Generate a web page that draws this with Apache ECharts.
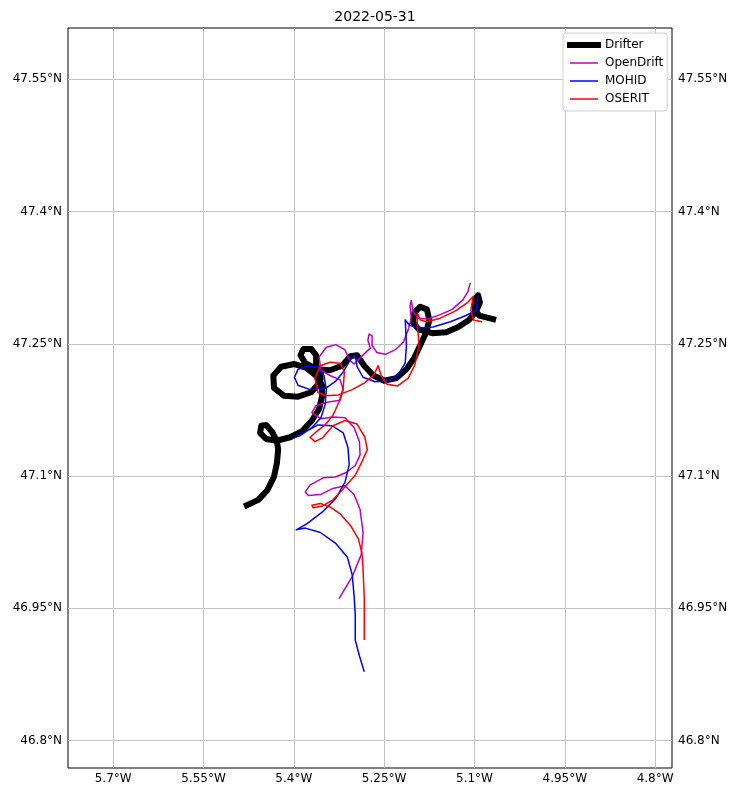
<!DOCTYPE html>
<html>
<head>
<meta charset="utf-8">
<script src="https://cdn.jsdelivr.net/npm/echarts@6/dist/echarts.min.js"></script>
<style>html,body{margin:0;padding:0;background:#fff}#c{width:732px;height:790px}</style>
</head>
<body>
<div id="c"></div>
<script>
const title = '2022-05-31';
const lonTicks = [-5.7, -5.55, -5.4, -5.25, -5.1, -4.95, -4.8];
const latTicks = [46.8, 46.95, 47.1, 47.25, 47.4, 47.55];
const seriesNames = ['Drifter', 'OpenDrift', 'MOHID', 'OSERIT'];

const drifter = [
[-5.478,47.067],[-5.459,47.073],[-5.444,47.084],[-5.433,47.099],[-5.428,47.115],[-5.426,47.130],
[-5.428,47.139],[-5.436,47.150],[-5.446,47.158],[-5.454,47.157],[-5.456,47.149],[-5.446,47.142],
[-5.429,47.140],[-5.406,47.144],[-5.386,47.151],[-5.370,47.163],[-5.358,47.176],[-5.353,47.191],
[-5.353,47.203],[-5.363,47.214],[-5.380,47.223],[-5.399,47.227],[-5.421,47.224],[-5.434,47.214],
[-5.433,47.200],[-5.416,47.191],[-5.393,47.190],[-5.371,47.195],[-5.356,47.207],[-5.355,47.218],
[-5.363,47.225],[-5.363,47.237],[-5.371,47.244],[-5.384,47.244],[-5.389,47.237],[-5.381,47.228],
[-5.361,47.221],[-5.340,47.220],[-5.320,47.225],[-5.306,47.236],[-5.295,47.237],[-5.283,47.225],
[-5.268,47.214],[-5.250,47.208],[-5.230,47.211],[-5.213,47.221],[-5.200,47.234],[-5.189,47.250],
[-5.180,47.263],[-5.175,47.277],[-5.179,47.289],[-5.190,47.292],[-5.200,47.285],[-5.202,47.274],
[-5.192,47.266],[-5.170,47.262],[-5.147,47.263],[-5.127,47.269],[-5.109,47.277],[-5.097,47.287],
[-5.091,47.297],[-5.094,47.305],[-5.099,47.300],[-5.099,47.288],[-5.092,47.282],[-5.069,47.278]
];

const openDrift = [
[-5.107,47.319],[-5.111,47.309],[-5.119,47.300],[-5.137,47.289],[-5.157,47.283],[-5.177,47.278],
[-5.194,47.279],[-5.202,47.287],[-5.205,47.299],[-5.207,47.293],[-5.205,47.279],[-5.210,47.266],
[-5.218,47.252],[-5.232,47.243],[-5.248,47.238],[-5.262,47.240],[-5.270,47.248],[-5.270,47.259],
[-5.275,47.261],[-5.277,47.254],[-5.273,47.245],[-5.287,47.236],[-5.300,47.227],[-5.308,47.232],
[-5.315,47.243],[-5.330,47.249],[-5.346,47.246],[-5.358,47.235],[-5.355,47.220],[-5.340,47.214],
[-5.323,47.209],[-5.318,47.198],[-5.323,47.186],[-5.343,47.184],[-5.363,47.180],[-5.370,47.172],
[-5.356,47.165],[-5.335,47.167],[-5.315,47.166],[-5.300,47.155],[-5.291,47.139],[-5.290,47.124],
[-5.298,47.112],[-5.313,47.104],[-5.331,47.099],[-5.351,47.098],[-5.373,47.090],[-5.381,47.082],
[-5.376,47.078],[-5.356,47.079],[-5.335,47.086],[-5.315,47.089],[-5.300,47.079],[-5.290,47.062],
[-5.285,47.036],[-5.288,47.011],[-5.303,46.986],[-5.325,46.961]
];

const mohid = [
[-5.094,47.305],[-5.097,47.288],[-5.114,47.282],[-5.140,47.275],[-5.169,47.269],[-5.194,47.268],
[-5.208,47.271],[-5.215,47.277],[-5.213,47.249],[-5.215,47.228],[-5.227,47.215],[-5.243,47.208],
[-5.265,47.207],[-5.285,47.212],[-5.295,47.224],[-5.298,47.237],[-5.306,47.232],[-5.318,47.218],
[-5.330,47.208],[-5.346,47.200],[-5.373,47.198],[-5.393,47.203],[-5.399,47.212],[-5.393,47.221],
[-5.376,47.225],[-5.360,47.223],[-5.350,47.214],[-5.346,47.198],[-5.348,47.181],[-5.355,47.166],
[-5.370,47.155],[-5.389,47.146],[-5.398,47.144],[-5.381,47.150],[-5.360,47.158],[-5.336,47.157],
[-5.318,47.149],[-5.310,47.132],[-5.308,47.113],[-5.315,47.093],[-5.330,47.075],[-5.353,47.059],
[-5.378,47.046],[-5.396,47.039],[-5.381,47.041],[-5.356,47.036],[-5.331,47.024],[-5.311,47.008],
[-5.303,46.988],[-5.300,46.965],[-5.298,46.943],[-5.298,46.914],[-5.291,46.896],[-5.283,46.878]
];

const oserit = [
[-5.087,47.275],[-5.102,47.277],[-5.106,47.288],[-5.102,47.304],[-5.111,47.297],[-5.132,47.287],
[-5.157,47.279],[-5.179,47.275],[-5.190,47.277],[-5.195,47.285],[-5.195,47.271],[-5.192,47.249],
[-5.199,47.226],[-5.210,47.211],[-5.228,47.202],[-5.245,47.204],[-5.255,47.214],[-5.260,47.225],
[-5.263,47.225],[-5.267,47.215],[-5.282,47.206],[-5.303,47.198],[-5.326,47.192],[-5.348,47.191],
[-5.360,47.195],[-5.365,47.211],[-5.356,47.225],[-5.340,47.229],[-5.323,47.228],[-5.316,47.218],
[-5.318,47.200],[-5.325,47.184],[-5.335,47.169],[-5.348,47.158],[-5.363,47.150],[-5.373,47.144],
[-5.365,47.139],[-5.353,47.143],[-5.335,47.157],[-5.315,47.163],[-5.295,47.159],[-5.282,47.144],
[-5.278,47.130],[-5.287,47.116],[-5.298,47.101],[-5.315,47.088],[-5.335,47.073],[-5.353,47.066],
[-5.368,47.064],[-5.370,47.067],[-5.356,47.069],[-5.340,47.065],[-5.323,47.057],[-5.306,47.044],
[-5.293,47.029],[-5.287,47.013],[-5.285,46.994],[-5.283,46.960],[-5.283,46.914]
];

const colors = ['#000000', '#bf00bf', '#0000ff', '#ff0000'];
const widths = [6, 1.5, 1.5, 1.5];
const tracks = [drifter, openDrift, mohid, oserit];

const font = 'DejaVu Sans';
const lonFmt = v => Math.abs(v) + '°W';
const latFmt = v => v + '°N';

const chart = echarts.init(document.getElementById('c'), null, {renderer: 'canvas'});
const yAxisBase = (pos) => ({
  type: 'value', position: pos, min: 46.769, max: 47.608,
  axisLine: {show: false}, axisTick: {show: false, customValues: latTicks},
  splitLine: {show: pos === 'left', lineStyle: {color: '#c4c4c4', width: 1}},
  axisLabel: {customValues: latTicks, formatter: latFmt, color: '#000', fontFamily: font, fontSize: 12, margin: 6}
});
chart.setOption({
  animation: false,
  backgroundColor: '#fff',
  title: {text: title, left: 370, top: 5, textAlign: 'center',
    textStyle: {fontFamily: font, fontSize: 14, fontWeight: 'normal', color: '#000'}},
  grid: {left: 68, right: 60, top: 28, bottom: 22, show: true, borderColor: '#000', borderWidth: 1, backgroundColor: 'transparent'},
  xAxis: {
    type: 'value', min: -5.775, max: -4.772,
    axisLine: {show: false}, axisTick: {show: false, customValues: lonTicks},
    splitLine: {show: true, lineStyle: {color: '#c4c4c4', width: 1}},
    axisLabel: {customValues: lonTicks, formatter: lonFmt, color: '#000', fontFamily: font, fontSize: 12, margin: 5}
  },
  yAxis: [yAxisBase('left'), yAxisBase('right')],
  legend: {
    orient: 'vertical', left: 563, top: 33,
    itemWidth: 28, itemHeight: 10, itemGap: 6,
    padding: [6, 4, 6, 4],
    backgroundColor: '#fff', borderColor: '#d0d0d0', borderWidth: 1, borderRadius: 3,
    textStyle: {fontFamily: font, fontSize: 12, color: '#000', padding: [0, 0, 0, 2]},
    data: seriesNames.map((n, i) => ({
      name: n,
      lineStyle: {width: widths[i], color: colors[i]},
      itemStyle: {color: 'rgba(0,0,0,0)', borderWidth: 0, opacity: 0}
    }))
  },
  series: seriesNames.map((n, i) => ({
    name: n, type: 'line', data: tracks[i], symbol: 'none', showSymbol: false,
    xAxisIndex: 0, yAxisIndex: 0, z: 2 + i, smooth: false,
    lineStyle: {color: colors[i], width: widths[i], join: 'round', cap: i === 0 ? 'square' : 'butt'},
    itemStyle: {color: colors[i]}
  }))
});
</script>
</body>
</html>
